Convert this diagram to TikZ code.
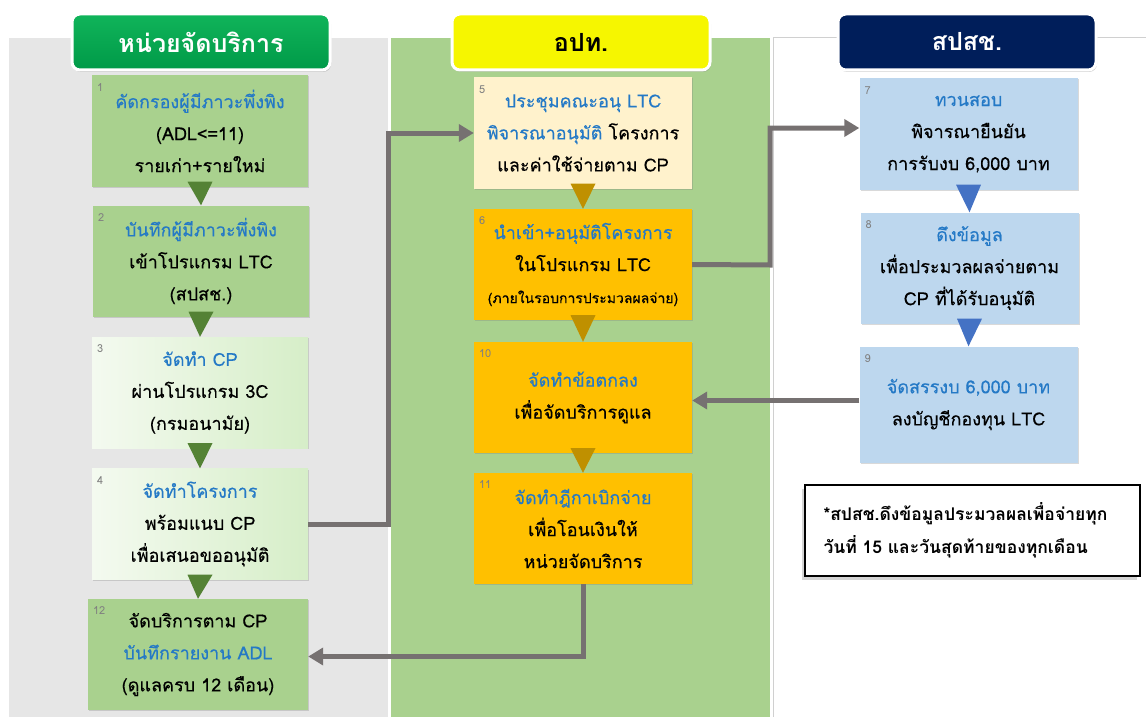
\documentclass[tikz,border=0pt]{standalone}
\usepackage{fontspec}
\setmainfont[Script=Thai]{Loma}
\newfontfamily\boxfont[Script=Thai,FakeBold=0.4]{Loma}
\usetikzlibrary{positioning,arrows.meta,shadows,calc}

\definecolor{lanegray}{HTML}{E6E6E6}
\definecolor{lanegreen}{HTML}{A9D18E}
\definecolor{laneline}{HTML}{D0D0D0}
\definecolor{headgreenA}{HTML}{10B45A}
\definecolor{headgreenB}{HTML}{009A48}
\definecolor{headyellow}{HTML}{F6F600}
\definecolor{headnavy}{HTML}{001E5A}
\definecolor{paleA}{HTML}{F4FAF0}
\definecolor{paleB}{HTML}{D6EEC8}
\definecolor{cream}{HTML}{FFF2CC}
\definecolor{gold}{HTML}{FFC000}
\definecolor{skyblue}{HTML}{BDD7EE}
\definecolor{chgreen}{HTML}{548235}
\definecolor{chgold}{HTML}{BF9000}
\definecolor{chblue}{HTML}{4472C4}
\definecolor{flowgray}{HTML}{767171}
\definecolor{tblue}{HTML}{2479C6}

\begin{document}
\begin{tikzpicture}[x=1pt,y=-1pt,
  font=\boxfont\fontsize{18}{32}\selectfont,
  stepbox/.style={rectangle,minimum width=216pt,minimum height=111pt,
    align=center,inner sep=0pt,
    drop shadow={shadow xshift=1pt,shadow yshift=-1pt,opacity=0.3}},
  headbox/.style={rectangle,rounded corners=8pt,draw=white,line width=3pt,
    minimum width=258pt,minimum height=56pt,
    font=\rmfamily\fontsize{25}{28}\selectfont\bfseries,
    drop shadow={shadow xshift=1pt,shadow yshift=-2pt,opacity=0.35}},
  num/.style={font=\rmfamily\fontsize{11}{12}\selectfont,text=gray,inner xsep=5pt,inner ysep=8pt},
  flow/.style={draw=flowgray,line width=5pt,-{Triangle[length=15pt,width=17pt]}},
  note/.style={rectangle,draw=black,line width=2pt,fill=white,text width=298pt,
    inner xsep=18.5pt,minimum height=91pt,align=left,
    font=\rmfamily\fontsize{17.5}{33}\selectfont\bfseries,
    drop shadow={shadow xshift=-3pt,shadow yshift=-4pt,opacity=1,fill=lanegray!80!black!60}}]
\useasboundingbox (0,0) rectangle (1146,717);

% Lanes
\fill[lanegray] (9,38) rectangle (388,717);
\fill[lanegreen] (391,38) rectangle (770,717);
\draw[laneline,line width=1pt] (773,717) -- (773,38) -- (1146,38);

% Headers
\node[headbox,top color=headgreenA,bottom color=headgreenB,text=white] (hunit) at (201,42) {หน่วยจัดบริการ};
\node[headbox,fill=headyellow,text=black] (hlocal) at (581,42) {อปท.};
\node[headbox,fill=headnavy,text=white] (hnhso) at (967,42) {สปสช.};

% Service unit
\node[stepbox,fill=lanegreen,label={[num,anchor=north west]north west:1}] (b1) at (200,131)
  {\textcolor{tblue}{คัดกรองผู้มีภาวะพึ่งพิง}\\(ADL<=11)\\รายเก่า+รายใหม่};
\node[stepbox,fill=lanegreen,label={[num,anchor=north west]north west:2}] (b2) at (201,261)
  {\textcolor{tblue}{บันทึกผู้มีภาวะพึ่งพิง}\\เข้าโปรแกรม LTC\\(สปสช.)};
\node[stepbox,left color=paleA,right color=paleB,label={[num,anchor=north west]north west:3}] (b3) at (200,392.5)
  {\textcolor{tblue}{จัดทำ CP}\\ผ่านโปรแกรม 3C\\(กรมอนามัย)};
\node[stepbox,left color=paleA,right color=paleB,label={[num,anchor=north west]north west:4}] (b4) at (200,524)
  {\textcolor{tblue}{จัดทำโครงการ}\\พร้อมแนบ CP\\เพื่อเสนอขออนุมัติ};
\node[stepbox,fill=lanegreen,minimum width=220pt,label={[num,anchor=north west]north west:12}] (b12) at (198,654.5)
  {จัดบริการตาม CP\\\textcolor{tblue}{บันทึกรายงาน ADL}\\(ดูแลครบ 12 เดือน)};

% Local authority
\node[stepbox,fill=cream,minimum width=218pt,label={[num,anchor=north west]north west:5}] (b5) at (583,133)
  {\textcolor{tblue}{ประชุมคณะอนุ LTC}\\\textcolor{tblue}{พิจารณาอนุมัติ} โครงการ\\และค่าใช้จ่ายตาม CP};
\node[stepbox,fill=gold,minimum width=218pt,label={[num,anchor=north west]north west:6}] (b6) at (583,264.5)
  {\textcolor{tblue}{นำเข้า+อนุมัติโครงการ}\\ในโปรแกรม LTC\\{\fontsize{14}{32}\selectfont(ภายในรอบการประมวลผลจ่าย)}};
\node[stepbox,fill=gold,minimum width=218pt,label={[num,anchor=north west]north west:10}] (b10) at (583,397.5)
  {\textcolor{tblue}{จัดทำข้อตกลง}\\เพื่อจัดบริการดูแล};
\node[stepbox,fill=gold,minimum width=218pt,label={[num,anchor=north west]north west:11}] (b11) at (583,528.5)
  {\textcolor{tblue}{จัดทำฎีกาเบิกจ่าย}\\เพื่อโอนเงินให้\\หน่วยจัดบริการ};

% NHSO
\node[stepbox,fill=skyblue,minimum width=218pt,label={[num,anchor=north west]north west:7}] (b7) at (968.5,134)
  {\textcolor{tblue}{ทวนสอบ}\\พิจารณายืนยัน\\การรับงบ 6,000 บาท};
\node[stepbox,fill=skyblue,minimum width=218pt,label={[num,anchor=north west]north west:8}] (b8) at (969.5,268)
  {\textcolor{tblue}{ดึงข้อมูล}\\เพื่อประมวลผลจ่ายตาม\\CP ที่ได้รับอนุมัติ};
\node[stepbox,fill=skyblue,minimum width=218pt,minimum height=116pt,label={[num,anchor=north west]north west:9}] (b9) at (968.5,404.5)
  {\textcolor{tblue}{จัดสรรงบ 6,000 บาท}\\ลงบัญชีกองทุน LTC};

% Note
\node[note] (note) at (972.5,530)
  {*สปสช.ดึงข้อมูลประมวลผลเพื่อจ่ายทุก\\วันที่ 15 และวันสุดท้ายของทุกเดือน};

% Step chevrons
\foreach \a/\b/\c in {b1/b2/chgreen,b2/b3/chgreen,b3/b4/chgreen,b4/b12/chgreen,
    b5/b6/chgold,b6/b10/chgold,b10/b11/chgold,b7/b8/chblue,b8/b9/chblue}
  \fill[\c] ($(\a.south)+(-12.5,-5)$) -- ++(25,0) -- (\b.north) -- cycle;

% Flows between lanes
\draw[flow] (b4.east) -- (388,524) |- (b5.west);
\draw[flow] (b6.east) -- (770,265) |- ([yshift=6pt]b7.west);
\draw[flow] ([yshift=4pt]b9.west) -- ([yshift=4pt]b9.west -| b10.east);
\draw[flow] (b11.south) |- ([yshift=-2pt]b12.east);
\end{tikzpicture}
\end{document}
